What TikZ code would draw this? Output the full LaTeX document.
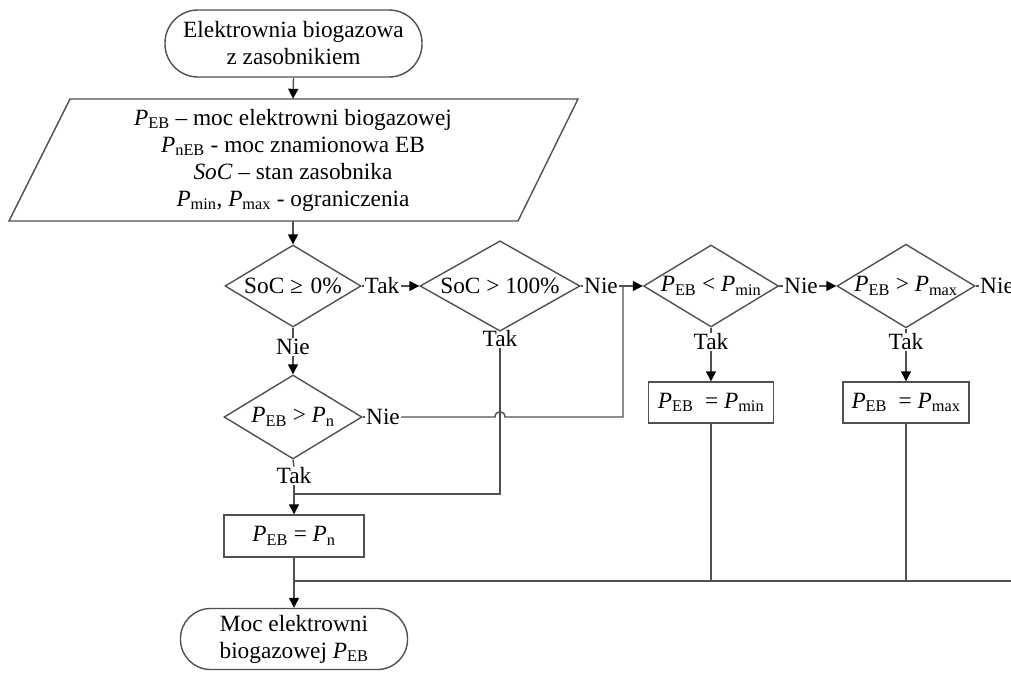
\documentclass[tikz,border=0pt]{standalone}
\usepackage{fontspec}
\setmainfont{Liberation Serif}
\usetikzlibrary{shapes.geometric,arrows.meta,calc}
\definecolor{ln}{RGB}{80,80,80}
\newcommand\Pp[1]{\textit{P}\textsubscript{#1}}
\begin{document}
\begin{tikzpicture}[x=1pt,y=-1pt,
 every node/.style={font=\fontsize{23.3}{27}\selectfont, text=black},
 line/.style={draw=ln, line width=1.4pt},
 arr/.style={line, -{Triangle[length=10pt,width=10pt,color=black]}},
 term/.style={line, rectangle, align=center, inner sep=0pt},
 dec/.style={line, diamond, inner sep=0pt, aspect=1.6},
 proc/.style={line, rectangle, inner sep=0pt},
 lab/.style={inner sep=1pt}]
\useasboundingbox (0,0) rectangle (1011,672);
\clip (0,0) rectangle (1011,672);
% nodes
\node[term, rounded corners=33pt, minimum width=257pt, minimum height=67pt] (start) at (293.5,43.5) {Elektrownia biogazowa\\z zasobnikiem};
\node[align=center, inner sep=0pt, minimum width=440pt, minimum height=122pt] (inp) at (293,160)
 {\Pp{EB} -- moc elektrowni biogazowej\\ \Pp{nEB} - moc znamionowa EB\\ \textit{SoC} -- stan zasobnika\\ \Pp{min}, \Pp{max} - ograniczenia};
\draw[line] (70,99) -- (578,99) -- (518,221) -- (9,221) -- cycle;
\node[dec, minimum width=136pt, minimum height=82pt] (d1) at (293,286) {SoC ≥\,\,0\%};
\node[dec, minimum width=160pt, minimum height=82pt] (d2) at (500,286) {SoC > 100\%};
\node[dec, minimum width=135pt, minimum height=82pt] (d3) at (711,286) {\Pp{EB} < \Pp{min}};
\node[dec, minimum width=138pt, minimum height=82pt] (d4) at (906,286) {\Pp{EB} > \Pp{max}};
\node[dec, minimum width=138pt, minimum height=84pt] (d5) at (293,417) {\Pp{EB} > \Pp{n}};
\node[proc, minimum width=125pt, minimum height=41pt] (b3) at (711,402.5) {\Pp{EB}\ \ = \Pp{min}};
\node[proc, minimum width=126pt, minimum height=41pt] (b4) at (906,402.5) {\Pp{EB}\ \ = \Pp{max}};
\node[proc, minimum width=140pt, minimum height=42pt] (b5) at (294,536) {\Pp{EB} = \Pp{n}};
\node[term, rounded corners=30pt, minimum width=227pt, minimum height=61pt] (endt) at (294,639) {Moc elektrowni\\biogazowej \Pp{EB}};
% labels
\node[lab] (tak1) at (382,286) {Tak};
\node[lab] (nie2) at (601,286) {Nie};
\node[lab] (nie3) at (801,286) {Nie};
\node[lab, anchor=west] (nie4) at (979,286) {Nie};
\node[lab] (nie1) at (293,347) {Nie};
\node[lab] (tak2) at (500,339) {Tak};
\node[lab] (nie5) at (383,417) {Nie};
\node[lab] (tak5) at (294,476) {Tak};
\node[lab] (tak3) at (711,342) {Tak};
\node[lab] (tak4) at (906,342) {Tak};
% coordinates
\coordinate (j1) at (294,494);
\coordinate (j2) at (623,286);
\coordinate (c1) at (623,417);
\coordinate (jmpA) at (495,417);
\coordinate (jmpB) at (505,417);
\coordinate (j3) at (294,581);
\coordinate (rt) at (1015,581);
% connectors
\draw[arr] (start.south) -- (inp.north);
\draw[arr] (inp.south) -- (d1.north);
\draw[line] (d1.east) -- (tak1.west);
\draw[arr] (tak1.east) -- (d2.west);
\draw[line] (d2.east) -- (nie2.west);
\draw[arr] (nie2.east) -- (d3.west);
\draw[line] (d3.east) -- (nie3.west);
\draw[arr] (nie3.east) -- (d4.west);
\draw[line] (d4.east) -- (nie4.west);
\draw[line] (d1.south) -- (nie1.north);
\draw[arr] (nie1.south) -- (d5.north);
\draw[line] (tak2.south) |- (j1);
\draw[line] (d5.south) -- (tak5.north);
\draw[arr] (tak5.south) -- (b5.north);
\draw[line] (d5.east) -- (nie5.west);
\draw[line] (nie5.east) -- (jmpA) .. controls ($(jmpA)+(0,-7)$) and ($(jmpB)+(0,-7)$) .. (jmpB) -- (c1) -- (j2);
\draw[line] (d3.south) -- (tak3.north);
\draw[arr] (tak3.south) -- (b3.north);
\draw[line] (d4.south) -- (tak4.north);
\draw[arr] (tak4.south) -- (b4.north);
\draw[line] (b5.south) -- (j3);
\draw[arr] (j3) -- (endt.north);
\draw[line] (j3) -- (rt);
\draw[line] (b3.south) -- (b3.south |- j3);
\draw[line] (b4.south) -- (b4.south |- j3);
\end{tikzpicture}
\end{document}
